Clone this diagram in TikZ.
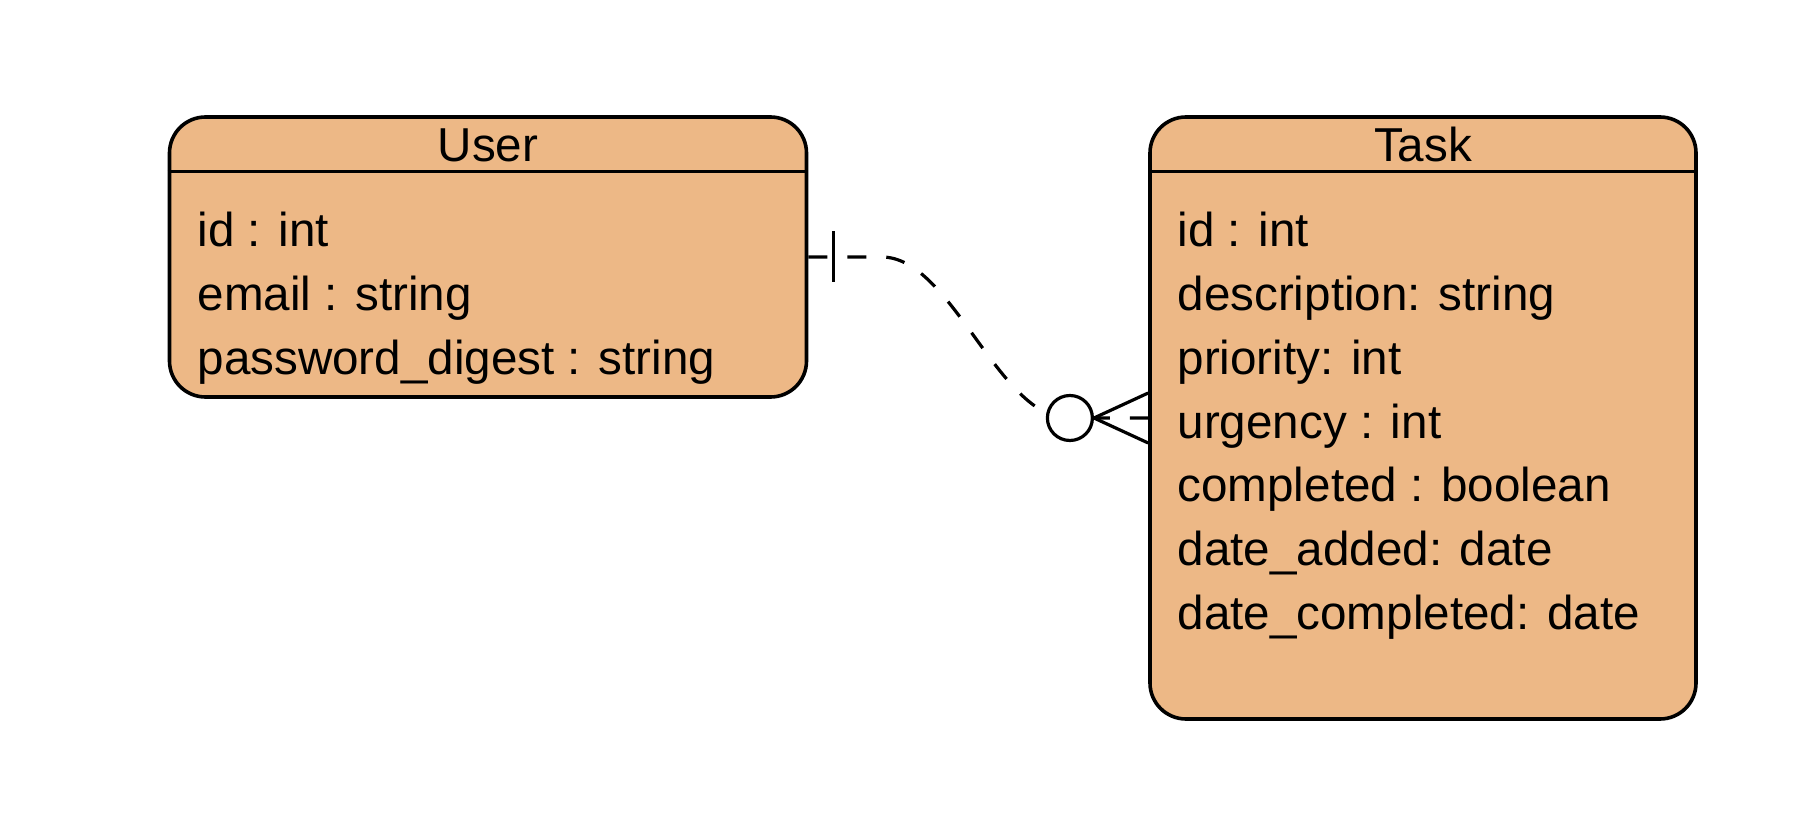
\documentclass[tikz,border=0pt]{standalone}
\usepackage{fontspec}
\setmainfont{Liberation Sans}
\usepackage{tikz}
\usetikzlibrary{matrix}
\definecolor{entityfill}{RGB}{237,184,134}

\begin{document}
\begin{tikzpicture}[x=0.5pt,y=-0.5pt
  ,font=\fontsize{23.8}{32}\selectfont
  ,line join=round]
  \tikzstyle{entity}=[draw, fill=entityfill, line width=1.8pt
  ,rounded corners=18pt, inner sep=0pt]
  \tikzstyle{fields}=[matrix of nodes, inner sep=0pt, row sep=0pt
  ,anchor=north west
  ,nodes={anchor=base west, inner sep=0pt, text height=22pt, text depth=9.9pt}]
  \tikzstyle{relation}=[line width=1.6pt]
  \useasboundingbox (0,0) rectangle (1812,834);

  % tables
  \node[entity, minimum width=318.5pt, minimum height=140pt] (user) at (488,257) {};
  \node[entity, minimum width=273pt, minimum height=301pt] (task) at (1423,418) {};

  \node[anchor=base] (userName) at ([yshift=-23pt]user.north) {User};
  \node[anchor=base] (taskName) at ([yshift=-23pt]task.north) {Task};
  \draw[line width=1.8pt] ([yshift=-28.25pt]user.north west) -- ([yshift=-28.25pt]user.north east);
  \draw[line width=1.8pt] ([yshift=-28.25pt]task.north west) -- ([yshift=-28.25pt]task.north east);

  % columns
  \matrix (userCols) [fields] at ([xshift=14.75pt,yshift=-43.5pt]user.north west)
  {
    id : int \\
    email : string \\
    password\_digest : string \\
  };
  \matrix (taskCols) [fields] at ([xshift=14.5pt,yshift=-43.5pt]task.north west)
  {
    id : int \\
    description: string \\
    priority: int \\
    urgency : int \\
    completed : boolean \\
    date\_added: date \\
    date\_completed: date \\
  };

  % one user -- many tasks
  \coordinate (leave) at ([xshift=36.75pt]user.east);
  \coordinate (arrive) at ([xshift=-40pt]task.west);
  \draw[relation, dash pattern=on 9.5pt off 10pt] (user.east) -- (leave)
    .. controls ([xshift=35pt]leave) and ([xshift=-35pt]arrive) .. (arrive)
    -- (task.west);
  \draw[relation] ([xshift=12.5pt,yshift=12.75pt]user.east)
    -- ([xshift=12.5pt,yshift=-12.75pt]user.east);
  \node[circle, draw, fill=white, relation, minimum size=22.5pt, inner sep=0pt]
    (zero) at ([xshift=-39.15pt]task.west) {};
  \draw[relation] ([yshift=12.5pt]task.west) -- (zero.east)
    -- ([yshift=-12.5pt]task.west);

\end{tikzpicture}
\end{document}
